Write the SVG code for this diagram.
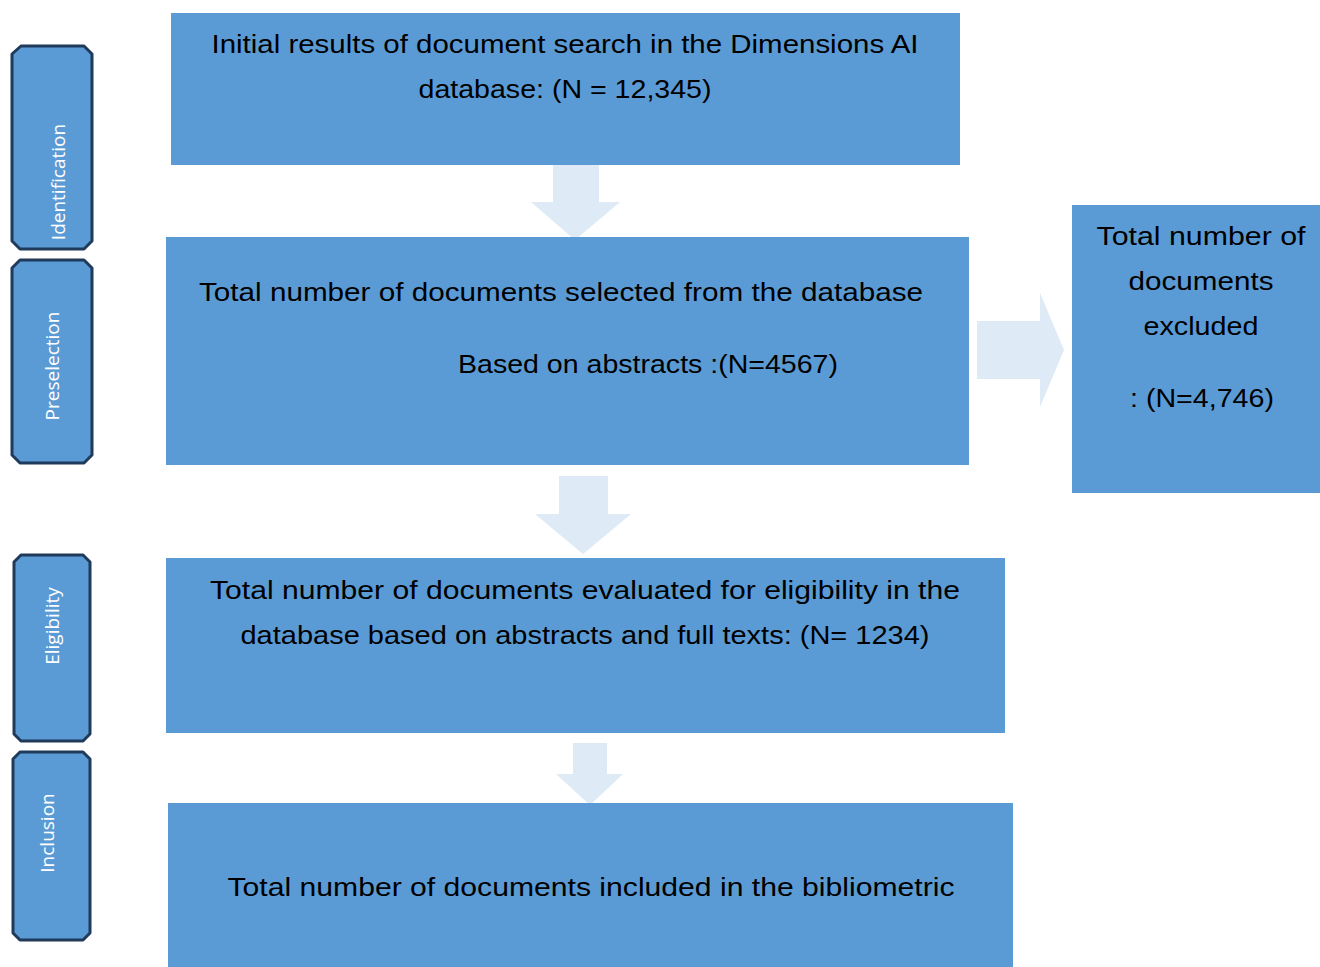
<svg xmlns="http://www.w3.org/2000/svg" width="1320" height="967" viewBox="0 0 1320 967">
  <style>
    .box { fill: #5B9BD5; }
    .stage { fill: #5B9BD5; stroke: #1F3A5A; stroke-width: 3; stroke-linejoin: round; }
    .arrow { fill: #DEEAF6; }
    .t { font-family: "Liberation Sans", Arial, sans-serif; font-size: 26px; fill: #000; text-anchor: middle; }
    .s { font-family: "Open Sans", "Liberation Sans", sans-serif; font-size: 19px; fill: #fff; text-anchor: middle; }
  </style>

  <!-- stage labels on the left -->
  <g id="stage-identification">
    <path class="stage" d="M21,46 H84 L92,54 V241 L84,249 H20 L12,241 V54 Z"/>
    <text class="s" transform="translate(65,182) rotate(-90)">Identification</text>
  </g>
  <g id="stage-preselection">
    <path class="stage" d="M20,260 H84 L92,268 V455 L84,463 H20 L12,455 V268 Z"/>
    <text class="s" transform="translate(59,366) rotate(-90)">Preselection</text>
  </g>
  <g id="stage-eligibility">
    <path class="stage" d="M21,555 H83 L90,562 V734 L83,741 H21 L14,734 V562 Z"/>
    <text class="s" transform="translate(59,626) rotate(-90)">Eligibility</text>
  </g>
  <g id="stage-inclusion">
    <path class="stage" d="M20,752 H83 L90,759 V933 L83,940 H20 L13,933 V759 Z"/>
    <text class="s" transform="translate(54,833) rotate(-90)">Inclusion</text>
  </g>

  <!-- block arrows between steps -->
  <g id="connectors">
    <polygon class="arrow" points="553,165 599,165 599,202 620,202 575,240 531,202 553,202"/>
    <polygon class="arrow" points="559,476 608,476 608,514 631,514 583,554 535,514 559,514"/>
    <polygon class="arrow" points="573,743 607,743 607,774 623,774 590,805 556,774 573,774"/>
    <polygon class="arrow" points="977,321 1040,321 1040,293 1064,350 1040,407 1040,379 977,379"/>
  </g>

  <g id="step-search">
    <rect class="box" x="171" y="13" width="789" height="152"/>
    <text class="t" x="565" y="53" textLength="707" lengthAdjust="spacingAndGlyphs">Initial results of document search in the Dimensions AI</text>
    <text class="t" x="565" y="98" textLength="293" lengthAdjust="spacingAndGlyphs">database: (N = 12,345)</text>
  </g>

  <g id="step-selected">
    <rect class="box" x="166" y="237" width="803" height="228"/>
    <text class="t" x="561" y="301" textLength="724" lengthAdjust="spacingAndGlyphs">Total number of documents selected from the database</text>
    <text class="t" x="648" y="373" textLength="380" lengthAdjust="spacingAndGlyphs">Based on abstracts :(N=4567)</text>
  </g>

  <g id="step-excluded">
    <rect class="box" x="1072" y="205" width="248" height="288"/>
    <text class="t" x="1201" y="245" textLength="209" lengthAdjust="spacingAndGlyphs">Total number of</text>
    <text class="t" x="1201" y="290" textLength="145" lengthAdjust="spacingAndGlyphs">documents</text>
    <text class="t" x="1201" y="335" textLength="115" lengthAdjust="spacingAndGlyphs">excluded</text>
    <text class="t" x="1202" y="407" textLength="144" lengthAdjust="spacingAndGlyphs">: (N=4,746)</text>
  </g>

  <g id="step-eligibility">
    <rect class="box" x="166" y="558" width="839" height="175"/>
    <text class="t" x="585" y="599" textLength="750" lengthAdjust="spacingAndGlyphs">Total number of documents evaluated for eligibility in the</text>
    <text class="t" x="585" y="644" textLength="689" lengthAdjust="spacingAndGlyphs">database based on abstracts and full texts: (N= 1234)</text>
  </g>

  <g id="step-included">
    <rect class="box" x="168" y="803" width="845" height="164"/>
    <text class="t" x="591" y="896" textLength="727" lengthAdjust="spacingAndGlyphs">Total number of documents included in the bibliometric</text>
  </g>
</svg>
